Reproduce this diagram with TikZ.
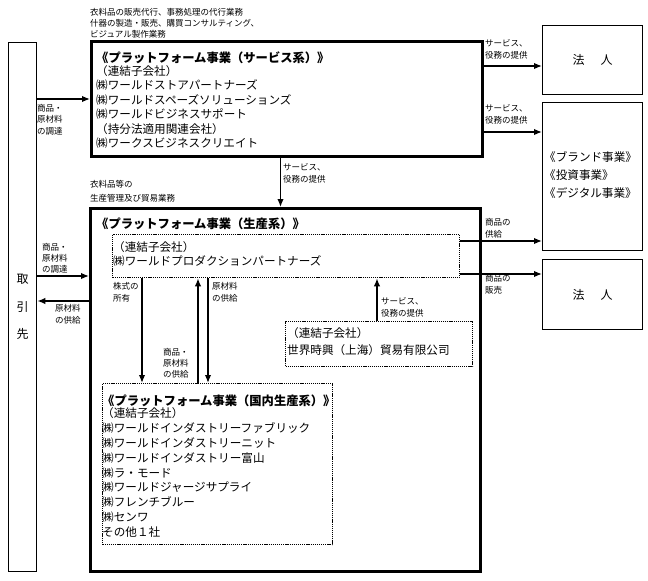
\documentclass[tikz,border=0pt]{standalone}
\usepackage{fontspec}
\setmainfont{Noto Sans CJK JP}
\usepackage{tikz}
\usetikzlibrary{arrows.meta,positioning}

\begin{document}
\begin{tikzpicture}[x=1pt,y=-1pt,>={Latex[length=8pt,width=6.5pt]},inner sep=0pt]
  \tikzstyle{thinbox}=[draw,line width=1.3pt,anchor=north west,font=\fontsize{12}{14}\selectfont]
  \tikzstyle{thickbox}=[draw,line width=3pt,anchor=north west]
  \tikzstyle{dotbox}=[draw,line width=1.3pt,dash pattern=on 1.2pt off 0.9pt,anchor=north west]
  \tikzstyle{arr}=[->,line width=1.5pt]
  % multi-line texts sit on the baseline of their last line
  \tikzstyle{lbl}=[anchor=base west,align=left,font=\fontsize{8.5}{12}\selectfont]
  \tikzstyle{boxbody}=[anchor=base west,align=left,font=\fontsize{11.6}{14.4}\selectfont]
  \tikzstyle{boxtitle}=[anchor=base west,font=\bfseries\fontsize{12.3}{14}\selectfont]

  \useasboundingbox (0,0) rectangle (648,581);

  % boxes
  \node[thinbox,minimum width=28pt,minimum height=529pt,align=center,font=\fontsize{12}{27.5}\selectfont] (torihiki) at (8,42) {取\\引\\先};
  \node[thickbox,minimum width=391pt,minimum height=115pt] (service) at (90,40) {};
  \node[thickbox,minimum width=390pt,minimum height=363pt] (production) at (89,207) {};
  \node[dotbox,minimum width=347pt,minimum height=43pt] (wpp) at (112,234) {};
  \node[dotbox,minimum width=187pt,minimum height=45pt] (shanghai) at (285,321) {};
  \node[dotbox,minimum width=230pt,minimum height=161pt] (domestic) at (102,383) {};
  \node[thinbox,minimum width=100pt,minimum height=69pt] (houjin1) at (542,25) {法\hspace{16pt}人};
  \node[thinbox,minimum width=100pt,minimum height=148pt] (brand) at (542,102) {};
  \node[thinbox,minimum width=100pt,minimum height=70pt] (houjin2) at (542,259) {法\hspace{16pt}人};

  % texts in the boxes
  \node[lbl,font=\fontsize{8.5}{11}\selectfont] (svcnote) at (90,37.3) {衣料品の販売代行、事務処理の代行業務\\什器の製造・販売、購買コンサルティング、\\ビジュアル製作業務};
  \node[boxtitle] (svctitle) at (96,62) {《プラットフォーム事業（サービス系）》};
  \node[boxbody] (svclist) at (96,147.5) {（連結子会社）\\㈱ワールドストアパートナーズ\\㈱ワールドスペーズソリューションズ\\㈱ワールドビジネスサポート\\（持分法適用関連会社）\\㈱ワークスビジネスクリエイト};
  \node[lbl,font=\fontsize{8.5}{13.5}\selectfont] (prodnote) at (90,201) {衣料品等の\\生産管理及び貿易業務};
  \node[boxtitle] (prodtitle) at (96,228) {《プラットフォーム事業（生産系）》};
  \node[boxbody] (wpplist) at (113,265.9) {（連結子会社）\\㈱ワールドプロダクションパートナーズ};
  \node[boxbody,font=\fontsize{11.6}{17}\selectfont] (shanghailist) at (287,354.5) {（連結子会社）\\世界時興（上海）貿易有限公司};
  \node[boxtitle] (domtitle) at (102,405.5) {《プラットフォーム事業（国内生産系）》};
  \node[boxbody,font=\fontsize{11.6}{14.9}\selectfont] (domlist) at (102,536.6) {（連結子会社）\\㈱ワールドインダストリーファブリック\\㈱ワールドインダストリーニット\\㈱ワールドインダストリー富山\\㈱ラ・モード\\㈱ワールドジャージサプライ\\㈱フレンチブルー\\㈱センワ\\その他１社};
  \node[boxbody,font=\fontsize{11.6}{18}\selectfont] (brandlist) at (544,197) {《ブランド事業》\\《投資事業》\\《デジタル事業》};

  % connector ends
  \path ([yshift=-26pt]service.north east) coordinate (s1)
        ([yshift=-92pt]service.north east) coordinate (s2)
        ([xshift=-6.5pt]service.south) coordinate (s3)
        ([yshift=-69pt]production.north west) coordinate (p1)
        ([yshift=-94pt]production.north west) coordinate (p2)
        ([yshift=-7pt]wpp.north east) coordinate (w1)
        ([yshift=-40pt]wpp.north east) coordinate (w2)
        ([xshift=30pt]wpp.south west) coordinate (v1)
        ([xshift=86pt]wpp.south west) coordinate (v2)
        ([xshift=96pt]wpp.south west) coordinate (v3)
        ([xshift=92pt]shanghai.north west) coordinate (h1);

  \draw[arr] (torihiki.east |- service.west) -- (service.west);
  \draw[arr] (s1) -- (s1 -| houjin1.west);
  \draw[arr] (s2) -- (s2 -| brand.west);
  \draw[arr] (s3) -- (s3 |- production.north);
  \draw[arr] (p1 -| torihiki.east) -- (p1);
  \draw[arr] (p2) -- (p2 -| torihiki.east);
  \draw[arr] (w1) -- (w1 -| brand.west);
  \draw[arr] (w2) -- (w2 -| houjin2.west);
  \draw[arr] (v1) -- (v1 |- domestic.north);
  \draw[arr] (v2 |- domestic.north) -- (v2);
  \draw[arr] (v3) -- (v3 |- domestic.north);
  \draw[arr] (h1) -- (h1 |- wpp.south);

  % connector labels
  \node[lbl,font=\fontsize{8.5}{11.5}\selectfont] (lprocure1) at (37,134) {商品・\\原材料\\の調達};
  \node[lbl] (lservice1) at (485,58) {サービス、\\役務の提供};
  \node[lbl] (lservice2) at (485,123) {サービス、\\役務の提供};
  \node[lbl] (lservice3) at (283,182) {サービス、\\役務の提供};
  \node[lbl,font=\fontsize{8.5}{11.2}\selectfont] (lprocure2) at (42,272.4) {商品・\\原材料\\の調達};
  \node[lbl] (lsupply1) at (55,323) {原材料\\の供給};
  \node[lbl] (lgoods1) at (485,237) {商品の\\供給};
  \node[lbl] (lgoods2) at (485,293) {商品の\\販売};
  \node[lbl] (lshares) at (113,301) {株式の\\所有};
  \node[lbl,font=\fontsize{8.5}{11}\selectfont] (lsupply2) at (163,377) {商品・\\原材料\\の供給};
  \node[lbl] (lsupply3) at (212,301) {原材料\\の供給};
  \node[lbl] (lservice4) at (381,316) {サービス、\\役務の提供};
\end{tikzpicture}
\end{document}
